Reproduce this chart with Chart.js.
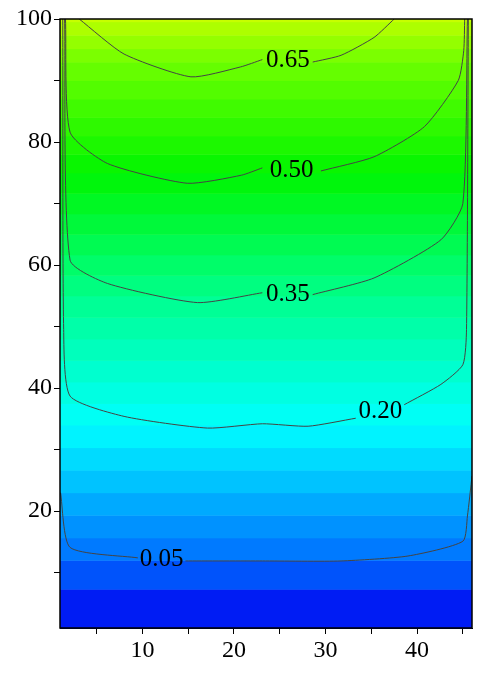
<!DOCTYPE html>
<html><head><meta charset="utf-8">
<script src="https://cdn.jsdelivr.net/npm/chart.js@4"></script>
<style>html,body{margin:0;padding:0;background:#fff}#wrap{width:479px;height:673px}</style>
</head><body><div id="wrap"><canvas id="chart"></canvas></div>
<script>
// contour lines, split where a label interrupts them
const c065a = [[3.1,100],[8.0,94.3],[15.3,90.6],[20.7,92.2],[23.1,93.4]];
const c065b = [[28.6,93.0],[31.7,94.1],[35.3,97.0],[37.5,100]];
const c050a = [[1.6,100],[2.1,81.6],[6.2,76.5],[14.9,73.3],[20.8,74.6],[23.1,75.8]];
const c050b = [[29.5,75.3],[35.3,77.6],[40.8,82.5],[44.5,90],[45.1,94.9],[45.2,100]];
const c035a = [[1.5,100],[2.1,60.8],[6.2,57],[16.0,53.9],[23.1,55.5]];
const c035b = [[28.6,55.2],[35.3,57.9],[42.6,64.1],[45,70],[45.5,100]];
const c020a = [[1.3,100],[1.4,49.5],[2.1,38.7],[8.0,35.4],[17.1,33.5],[23.1,34.2],[28.1,33.8],[33.3,35.1]];
const c020b = [[38.6,37.3],[42.6,40.6],[45,43.8],[45.4,49.5],[45.6,100]];
const c005a = [[1.06,23],[2.1,14.1],[9.5,12.4]];
const c005b = [[14.7,11.9],[23.1,11.9],[31.7,11.9],[39,12.7],[45,15.1],[45.5,19.2],[46,25.7]];

const labelText = ['0.65','0.50','0.35','0.20','0.05'];
const labelX = [25.9, 26.3, 25.9, 36.0, 12.1];
const labelY = [93.2, 75.4, 55.3, 36.2, 12.2];

// value of the field along the middle of the plot (for the colour bands)
const midY = [1, 4.5, 12, 34, 55, 75, 93, 100];
const midLevel = [0.0, 0.01, 0.05, 0.20, 0.35, 0.50, 0.65, 0.73];

const xTicks = [5,10,15,20,25,30,35,40,45];
const yTicks = [10,20,30,40,50,60,70,80,90,100];

function cmap(v) {
  const stops = [[0,[0,0,240]],[0.05,[0,110,255]],[0.2,[0,255,255]],[0.35,[0,255,140]],[0.5,[0,245,0]],[0.65,[110,255,0]],[0.75,[210,255,0]]];
  for (let i = 1; i < stops.length; i++) {
    if (v <= stops[i][0]) {
      const [a, ca] = stops[i-1], [b, cb] = stops[i];
      const t = (v - a) / (b - a);
      return 'rgb(' + ca.map((c, k) => Math.round(c + (cb[k] - c) * t)).join(',') + ')';
    }
  }
  return 'rgb(210,255,0)';
}
function yForLevel(v) {
  for (let i = 1; i < midLevel.length; i++) {
    if (v <= midLevel[i]) {
      const t = (v - midLevel[i-1]) / (midLevel[i] - midLevel[i-1]);
      return midY[i-1] + (midY[i] - midY[i-1]) * t;
    }
  }
  return 100;
}

const bandPlugin = {
  id: 'bands',
  beforeDatasetsDraw(chart) {
    const {ctx, chartArea: a, scales: {y}} = chart;
    ctx.save();
    let prev = a.bottom;
    for (let v = 0.0125; v <= 0.75; v += 0.025) {
      const top = Math.max(a.top, y.getPixelForValue(yForLevel(v + 0.0125)));
      ctx.fillStyle = cmap(v);
      ctx.fillRect(a.left, top, a.right - a.left, prev - top + 0.5);
      prev = top;
      if (top <= a.top) break;
    }
    ctx.restore();
  },
  afterDatasetsDraw(chart) {
    const {ctx, chartArea: a, scales: {x, y}} = chart;
    ctx.save();
    ctx.font = '25px "Liberation Serif"';
    ctx.fillStyle = '#000';
    ctx.textAlign = 'center';
    ctx.textBaseline = 'middle';
    labelText.forEach((t, i) => ctx.fillText(t, x.getPixelForValue(labelX[i]), y.getPixelForValue(labelY[i])));
    ctx.strokeStyle = '#000';
    ctx.lineWidth = 1.5;
    ctx.strokeRect(a.left, a.top, a.right - a.left, a.bottom - a.top);
    ctx.restore();
  }
};

const lines = [c065a,c065b,c050a,c050b,c035a,c035b,c020a,c020b,c005a,c005b];

new Chart(document.getElementById('chart'), {
  type: 'line',
  data: {
    datasets: lines.map(l => ({
      data: l.map(p => ({x: p[0], y: p[1]})),
      borderColor: '#444', borderWidth: 1, pointRadius: 0, tension: 0.2, fill: false
    }))
  },
  options: {
    responsive: true, maintainAspectRatio: false, animation: false,
    layout: {padding: {top: 19, right: 7, left: 0, bottom: 0}},
    plugins: {legend: {display: false}, tooltip: {enabled: false}},
    scales: {
      x: {
        type: 'linear', min: 1, max: 46,
        afterBuildTicks: s => { s.ticks = xTicks.map(v => ({value: v})); },
        afterFit: s => { s.height = 45; },
        grid: {drawOnChartArea: false, color: '#000', tickLength: 6, tickColor: '#000'},
        border: {color: '#000'},
        ticks: {color: '#000', font: {family: 'Liberation Serif', size: 24}, padding: 2, maxRotation: 0,
          callback: v => v % 10 === 0 ? v : ''}
      },
      y: {
        type: 'linear', min: 1, max: 100,
        afterBuildTicks: s => { s.ticks = yTicks.map(v => ({value: v})); },
        afterFit: s => { s.width = 60; },
        grid: {drawOnChartArea: false, color: '#000', tickLength: 6, tickColor: '#000'},
        border: {color: '#000'},
        ticks: {color: '#000', font: {family: 'Liberation Serif', size: 24}, padding: 2,
          callback: v => v % 20 === 0 ? v : ''}
      }
    }
  },
  plugins: [bandPlugin]
});
</script></body></html>
